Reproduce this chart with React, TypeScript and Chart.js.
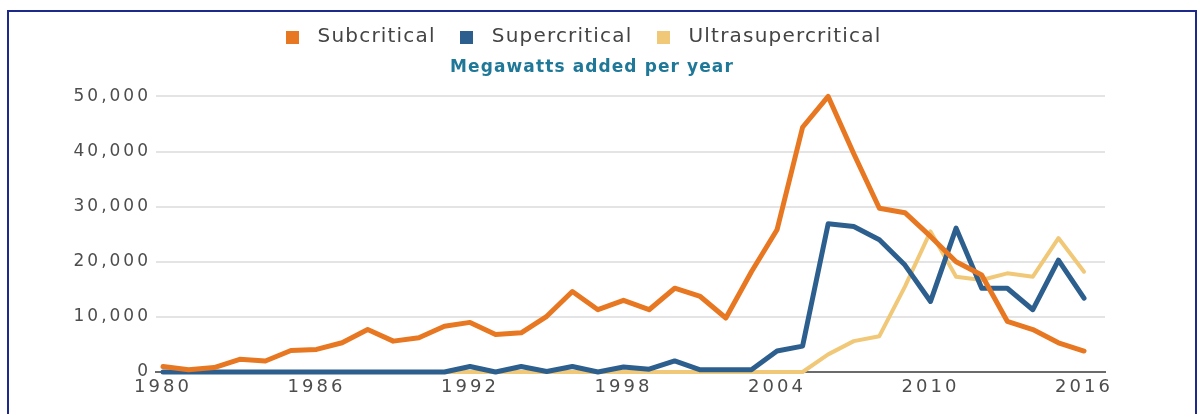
import React, { useEffect, useRef } from 'react';
import { Chart, registerables } from 'chart.js';

Chart.register(...registerables);

// ---------- data ----------
const years = [
  1980, 1981, 1982, 1983, 1984, 1985, 1986, 1987, 1988, 1989,
  1990, 1991, 1992, 1993, 1994, 1995, 1996, 1997, 1998, 1999,
  2000, 2001, 2002, 2003, 2004, 2005, 2006, 2007, 2008, 2009,
  2010, 2011, 2012, 2013, 2014, 2015, 2016,
];

const subcritical = [
  1000, 400, 800, 2300, 2000, 3900, 4100, 5300, 7700, 5600,
  6200, 8300, 9000, 6800, 7100, 10100, 14600, 11300, 13000, 11300,
  15200, 13700, 9800, 18200, 25800, 44400, 50000, 39600, 29700, 28900,
  24600, 20000, 17600, 9200, 7700, 5300, 3800,
];

const supercritical = [
  0, 0, 0, 0, 0, 0, 0, 0, 0, 0,
  0, 0, 1000, 0, 1000, 100, 1000, 0, 900, 500,
  2000, 400, 400, 400, 3800, 4700, 26900, 26400, 24000, 19400,
  12800, 26100, 15200, 15200, 11300, 20300, 13400,
];

const ultrasupercritical = [
  0, 0, 0, 0, 0, 0, 0, 0, 0, 0,
  0, 0, 0, 0, 0, 0, 0, 0, 0, 0,
  0, 0, 0, 0, 0, 0, 3200, 5600, 6500, 15500,
  25500, 17300, 16700, 17900, 17300, 24300, 18200,
];

const seriesNames = ['Subcritical', 'Supercritical', 'Ultrasupercritical'];
const titleText = 'Megawatts added per year';
const xTickYears = [1980, 1986, 1992, 1998, 2004, 2010, 2016];
const yTickValues = [0, 10000, 20000, 30000, 40000, 50000];

const ORANGE = '#e87722';
const BLUE = '#2d5f8e';
const TAN = '#f0c878';
const FONT = '"DejaVu Sans", sans-serif';

function swatch(color: string) {
  const c = document.createElement('canvas');
  c.width = 13;
  c.height = 13;
  const g = c.getContext('2d')!;
  g.fillStyle = color;
  g.fillRect(0, 0, 13, 13);
  return c;
}

function withSpacing(obj: any, ls: string, methods: string[], dx = 0) {
  methods.forEach((m) => {
    if (typeof obj[m] !== 'function') return;
    const orig = obj[m].bind(obj);
    obj[m] = (...args: any[]) => {
      const ctx = obj.ctx;
      const prev = ctx.letterSpacing;
      ctx.letterSpacing = ls;
      const shift = m === 'draw' && dx !== 0;
      if (shift) {
        ctx.save();
        ctx.translate(dx, 0);
      }
      try {
        return orig(...args);
      } finally {
        if (shift) ctx.restore();
        ctx.letterSpacing = prev;
      }
    };
  });
}

const spacingPlugin = {
  id: 'spacing',
  afterInit(chart: any) {
    if (chart.legend) withSpacing(chart.legend, '1.2px', ['fit', 'draw'], -13);
    if (chart.titleBlock) withSpacing(chart.titleBlock, '1.1px', ['fit', 'draw']);
  },
  beforeUpdate(chart: any) {
    chart.ctx.letterSpacing = '3px';
  },
  beforeDraw(chart: any) {
    chart.ctx.letterSpacing = '3px';
  },
};

function series(label: string, values: number[], color: string, width: number) {
  return {
    label,
    data: years.map((yr, i) => ({ x: yr, y: values[i] })),
    borderColor: color,
    backgroundColor: color,
    borderWidth: width,
    pointRadius: 0,
    pointHoverRadius: 0,
    pointStyle: swatch(color),
    tension: 0,
    borderJoinStyle: 'round',
    borderCapStyle: 'round',
    clip: false,
  };
}

export default function App() {
  const ref = useRef<HTMLCanvasElement>(null);

  useEffect(() => {
    const canvas = ref.current!;
    const chart = new Chart(canvas, {
      type: 'line',
      data: {
        datasets: [
          series(seriesNames[0], subcritical, ORANGE, 5),
          series(seriesNames[1], supercritical, BLUE, 5),
          series(seriesNames[2], ultrasupercritical, TAN, 4),
        ] as any,
      },
      options: {
        responsive: false,
        animation: false,
        devicePixelRatio: 1,
        events: [],
        layout: { padding: { left: 0, right: 20, top: 0, bottom: 0 } },
        plugins: {
          legend: {
            position: 'top',
            weight: 3000,
            labels: {
              usePointStyle: true,
              pointStyleWidth: 31,
              padding: 15,
              color: '#444',
              font: { family: FONT, size: 20 },
            },
          } as any,
          title: {
            display: true,
            text: titleText,
            color: '#1f7898',
            font: { family: FONT, size: 17, weight: 'bold' },
            padding: { top: 0, bottom: 19 },
          },
          tooltip: { enabled: false },
        },
        scales: {
          x: {
            type: 'linear',
            min: 1979.726,
            max: 2016.82,
            grid: { display: false, drawTicks: false },
            border: { display: true, color: '#6b6b6b', width: 2 },
            afterBuildTicks: (s: any) => {
              s.ticks = xTickYears.map((v) => ({ value: v }));
            },
            afterFit: (s: any) => {
              s.height = 40;
            },
            ticks: {
              color: '#4d4d4d',
              padding: 5,
              autoSkip: false,
              maxRotation: 0,
              font: { family: FONT, size: 18 },
              callback: (v: any) => String(v),
            },
          },
          y: {
            type: 'linear',
            min: 0,
            max: 50000,
            grid: { color: '#e4e4e4', lineWidth: 2, drawTicks: false },
            border: { display: false },
            afterBuildTicks: (s: any) => {
              s.ticks = yTickValues.map((v) => ({ value: v }));
            },
            afterFit: (s: any) => {
              s.width = 147;
            },
            ticks: {
              color: '#4d4d4d',
              padding: 5,
              font: { family: FONT, size: 17 },
              callback: (v: any) => Number(v).toLocaleString('en-US'),
            },
          },
          yRight: {
            type: 'linear',
            position: 'right',
            display: true,
            grid: { display: false, drawTicks: false },
            border: { display: false },
            ticks: { display: false },
            afterFit: (s: any) => {
              s.width = 70;
            },
          },
        },
      } as any,
      plugins: [spacingPlugin as any],
    });
    return () => chart.destroy();
  }, []);

  return (
    <div
      style={{
        position: 'absolute',
        left: 7,
        top: 10,
        width: 1190,
        height: 420,
        border: '2px solid #1d2a8c',
        boxSizing: 'border-box',
        background: '#fff',
      }}
    >
      <canvas ref={ref} width={1186} height={400} style={{ display: 'block' }} />
    </div>
  );
}
